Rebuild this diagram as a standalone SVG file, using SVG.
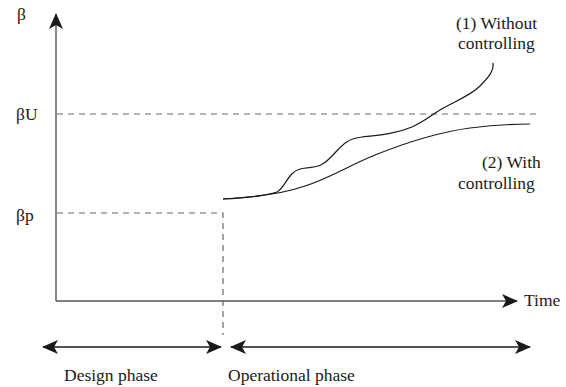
<svg xmlns="http://www.w3.org/2000/svg" width="566" height="387" viewBox="0 0 566 387" font-family="Liberation Serif, DejaVu Serif, serif">
  <style>
    text { font-family: 'Liberation Serif', 'DejaVu Serif', serif; font-size: 17.5px; fill: #1a1a1a; }
    .axis { stroke: #555; stroke-width: 1.4; fill: none; }
    .dash { stroke: #666; stroke-width: 1.2; stroke-dasharray: 6 5; fill: none; }
    .curve { stroke: #1a1a1a; stroke-width: 1.2; fill: none; }
    .span { stroke: #1a1a1a; stroke-width: 1.4; fill: none; }
  </style>
  <defs>
    <marker id="head" viewBox="0 0 16 14" refX="15" refY="7" markerWidth="16" markerHeight="14" markerUnits="userSpaceOnUse" orient="auto-start-reverse">
      <path d="M0,0 L16,7 L0,14 L4,7 Z" fill="#1a1a1a"/>
    </marker>
  </defs>

  <rect width="566" height="387" fill="#fff"/>

  <!-- axes -->
  <g id="axes">
    <path class="axis" d="M56,301 V14" marker-end="url(#head)"/>
    <path class="axis" d="M56,301 H517" marker-end="url(#head)"/>
    <text x="17" y="20">β</text>
    <text x="524" y="306">Time</text>
  </g>

  <!-- reference levels -->
  <g id="levels">
    <path class="dash" d="M57,114 H538"/>
    <path class="dash" d="M57,213 H223 V335"/>
    <text x="16" y="120">βU</text>
    <text x="16" y="221">βp</text>
  </g>

  <!-- reliability curves -->
  <g id="curves">
    <path class="curve" d="M223,199 C245,198 265,196 277,192 C285,188 288,172 300,169 C312,166 318,170 330,158 C342,146 345,139 362,137 C380,135 395,134 412,127 C425,121 430,116 440,110 C455,101 470,96 480,86 C490,76 494,70 493,63"/>
    <path class="curve" d="M223,199 C260,197 285,193 305,186 C330,178 350,165 375,155 C405,143 440,132 470,128 C495,125 515,124 530,124"/>
    <text x="456" y="29">(1) Without</text>
    <text x="458" y="49">controlling</text>
    <text x="482" y="168">(2) With</text>
    <text x="458" y="189">controlling</text>
  </g>

  <!-- phases -->
  <g id="phases">
    <path class="span" d="M43,347 H221" marker-start="url(#head)" marker-end="url(#head)"/>
    <path class="span" d="M231,347 H530" marker-start="url(#head)" marker-end="url(#head)"/>
    <text x="64" y="381">Design phase</text>
    <text x="228" y="381">Operational phase</text>
  </g>
</svg>
